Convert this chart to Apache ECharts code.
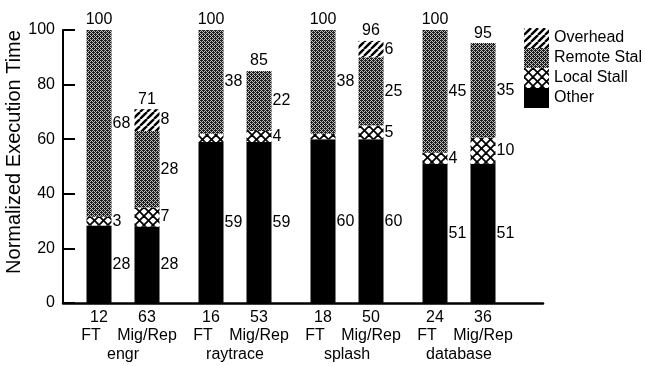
<!DOCTYPE html>
<html>
<head>
<meta charset="utf-8">
<script src="https://cdn.jsdelivr.net/npm/echarts@6/dist/echarts.min.js"></script>
<style>
html,body{margin:0;padding:0;background:#fff;}
#chart{width:645px;height:366px;}
</style>
</head>
<body>
<div id="chart"></div>
<script>
// ---- data ----
const groups = ['engr', 'raytrace', 'splash', 'database'];
const configs = ['FT', 'Mig/Rep'];
const counts = ['12', '63', '16', '53', '18', '50', '24', '36'];
const other = [28.4, 28, 59, 59, 60, 60, 51, 51];
const localStall = [3.2, 7, 3, 4, 2, 5, 4, 9.6];
const localShown = [true, true, false, true, false, true, true, true];
const remoteStall = [68.4, 28, 38, 22, 38, 25, 45, 34.6];
const overhead = [0, 8, 0, 0, 0, 6, 0, 0];
const totals = [100, 71, 100, 85, 100, 96, 100, 95];
const yTicks = [0, 20, 40, 60, 80, 100];
const legendNames = ['Overhead', 'Remote Stal', 'Local Stall', 'Other'];

// ---- layout (slots on a category axis) ----
const N = 60;
const barSlots = [];
groups.forEach((g, gi) => configs.forEach((c, ci) => barSlots.push(4 + gi * 14 + ci * 6)));

const labelsTop = new Array(N).fill('');
const labelsMid = new Array(N).fill('');
const labelsBot = new Array(N).fill('');
barSlots.forEach((s, k) => {
  labelsTop[s] = counts[k];
  const ci = k % 2;
  if (ci === 0) labelsMid[s - 1] = configs[0]; else labelsMid[s] = configs[1];
  if (ci === 0) labelsBot[s + 3] = groups[Math.floor(k / 2)];
});
const cats = [];
for (let i = 0; i < N; i++) cats.push(labelsTop[i] + '\n' + labelsMid[i] + '\n' + labelsBot[i]);

function spread(arr, shown) {
  const out = new Array(N).fill(null);
  barSlots.forEach((s, k) => {
    if (!arr[k]) return;
    out[s] = (shown && !shown[k]) ? { value: arr[k], label: { show: false } } : arr[k];
  });
  return out;
}

// ---- patterns ----
function mk(w, h, draw) {
  const c = document.createElement('canvas');
  c.width = w; c.height = h;
  const ctx = c.getContext('2d');
  draw(ctx, w, h);
  return { image: c, repeat: 'repeat' };
}
const hatchPat = mk(7, 7, (ctx, w, h) => {
  ctx.fillStyle = '#fff'; ctx.fillRect(0, 0, w, h);
  ctx.strokeStyle = '#000'; ctx.lineWidth = 2.4;
  for (let o = -w; o <= w; o += w) {
    ctx.beginPath(); ctx.moveTo(o, h); ctx.lineTo(o + w, 0); ctx.stroke();
  }
});
const bayer = [[0, 8, 2, 10], [12, 4, 14, 6], [3, 11, 1, 9], [15, 7, 13, 5]];
const grayPat = mk(4, 4, (ctx) => {
  for (let y = 0; y < 4; y++) for (let x = 0; x < 4; x++) {
    ctx.fillStyle = bayer[y][x] < 10 ? '#1e1e1e' : '#bdbdbd';
    ctx.fillRect(x, y, 1, 1);
  }
});
const crossPat = mk(9, 9, (ctx, w, h) => {
  ctx.fillStyle = '#fff'; ctx.fillRect(0, 0, w, h);
  ctx.strokeStyle = '#000'; ctx.lineWidth = 1.8;
  for (let o = -w; o <= w; o += w) {
    ctx.beginPath(); ctx.moveTo(o, h); ctx.lineTo(o + w, 0); ctx.stroke();
    ctx.beginPath(); ctx.moveTo(o, 0); ctx.lineTo(o + w, h); ctx.stroke();
  }
});

const FONT = "'Liberation Sans', Arial, Helvetica, sans-serif";
const labelStyle = {
  show: true, position: 'right', distance: 1, color: '#000',
  fontFamily: FONT, fontSize: 16,
  formatter: p => Math.round(p.value)
};

const chart = echarts.init(document.getElementById('chart'), null, { renderer: 'canvas' });
chart.setOption({
  animation: false,
  backgroundColor: '#fff',
  grid: { left: 63, right: 102, top: 30, bottom: 63, containLabel: false },
  legend: {
    data: legendNames, orient: 'vertical', left: 524, top: 28, padding: 0,
    itemWidth: 25, itemHeight: 20, itemGap: 0, icon: 'rect', selectedMode: false,
    textStyle: { fontFamily: FONT, fontSize: 16, color: '#000', padding: [6, 0, 0, 0] }
  },
  graphic: [{
    type: 'text', x: 14, y: 152, rotation: Math.PI / 2,
    style: { text: 'Normalized Execution Time', fontFamily: FONT,
      fontSize: 20, fill: '#000', align: 'center', verticalAlign: 'middle' }
  }],
  xAxis: {
    type: 'category', data: cats,
    axisLine: { lineStyle: { color: '#000', width: 2.5 } },
    axisTick: { show: false },
    axisLabel: { interval: 0, color: '#000', fontFamily: FONT, fontSize: 16, lineHeight: 18.5, margin: 5 }
  },
  yAxis: {
    type: 'value', min: yTicks[0], max: yTicks[yTicks.length - 1], interval: yTicks[1] - yTicks[0],
    splitLine: { show: false },
    axisLine: { show: true, lineStyle: { color: '#000', width: 2 } },
    axisTick: { show: true, inside: true, length: 12, lineStyle: { color: '#000', width: 2 } },
    axisLabel: { color: '#000', fontFamily: FONT, fontSize: 16, margin: 8 }
  },
  series: [
    { name: 'Other', type: 'bar', stack: 's', barWidth: 25, data: spread(other),
      itemStyle: { color: '#000' }, label: labelStyle },
    { name: 'Local Stall', type: 'bar', stack: 's', barWidth: 25, data: spread(localStall, localShown),
      itemStyle: { color: crossPat }, label: labelStyle },
    { name: 'Remote Stal', type: 'bar', stack: 's', barWidth: 25, data: spread(remoteStall),
      itemStyle: { color: grayPat }, label: labelStyle },
    { name: 'Overhead', type: 'bar', stack: 's', barWidth: 25, data: spread(overhead),
      itemStyle: { color: hatchPat }, label: labelStyle },
    { name: 'Total', type: 'bar', stack: 's', barWidth: 25,
      data: barSlots.reduce((a, s, k) => { a[s] = 0; return a; }, new Array(N).fill(null)),
      itemStyle: { color: 'rgba(0,0,0,0)' },
      label: { show: true, position: 'top', distance: 2, color: '#000', fontFamily: FONT, fontSize: 16,
        formatter: p => totals[barSlots.indexOf(p.dataIndex)] } }
  ]
});
</script>
</body>
</html>
